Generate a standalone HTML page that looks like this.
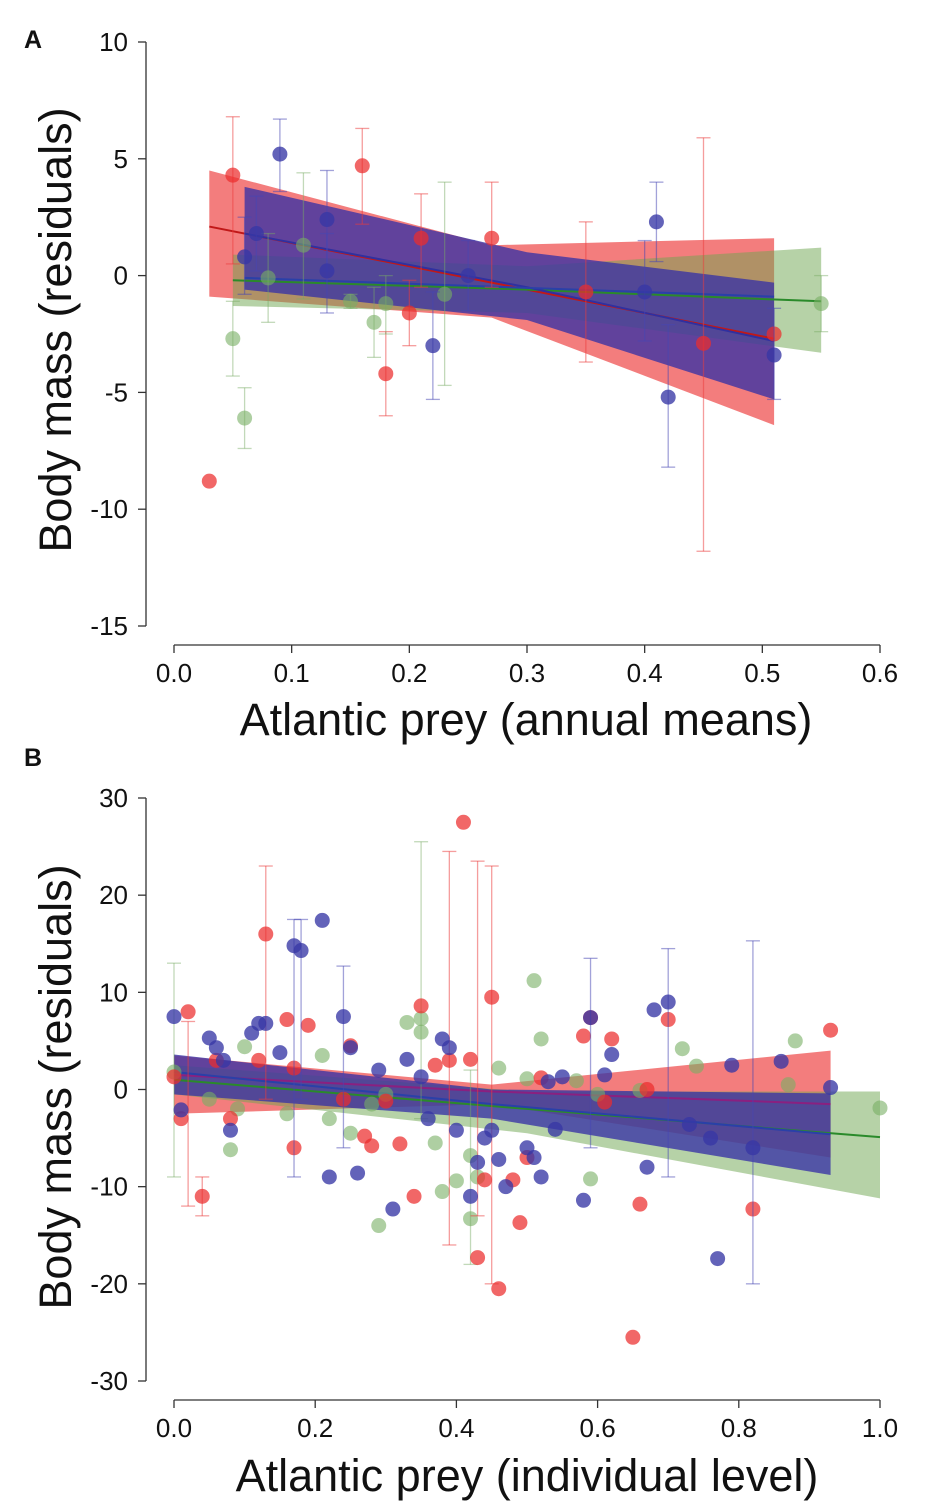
<!DOCTYPE html>
<html><head><meta charset="utf-8"><style>
body{margin:0;background:#fff;}
svg{display:block;font-family:"Liberation Sans",sans-serif;}
</style></head><body>
<svg id="c" width="945" height="1512"></svg>
<script>
// ---------- Panel A data ----------
const aRed=[[0.03,-8.8,null,null],[0.05,4.3,0.5,6.8],[0.16,4.7,2.2,6.3],[0.18,-4.2,-6.0,-2.4],[0.20,-1.6,-3.0,-0.2],[0.21,1.6,-0.5,3.5],[0.27,1.6,-0.5,4.0],[0.35,-0.7,-3.7,2.3],[0.45,-2.9,-11.8,5.9],[0.51,-2.5,null,null]];
const aGreen=[[0.05,-2.7,-4.3,-1.1],[0.06,-6.1,-7.4,-4.8],[0.08,-0.1,-2.0,1.8],[0.11,1.3,-1.0,4.4],[0.15,-1.1,-1.4,-0.8],[0.17,-2.0,-3.5,-0.5],[0.18,-1.2,-2.5,0.0],[0.23,-0.8,-4.7,4.0],[0.55,-1.2,-2.4,0.0]];
const aBlue=[[0.06,0.8,-0.8,2.5],[0.07,1.8,0.2,3.4],[0.09,5.2,3.6,6.7],[0.13,2.4,0.2,4.5],[0.13,0.2,-1.6,1.8],[0.22,-3.0,-5.3,-0.7],[0.25,0.0,-1.5,1.5],[0.40,-0.7,-2.8,1.5],[0.41,2.3,0.6,4.0],[0.42,-5.2,-8.2,-2.1],[0.51,-3.4,-5.3,-1.4]];
// bands: [x, lower, upper, fit]
const aRedBand=[[0.03,-0.9,4.5,2.1],[0.27,-1.8,1.3,-0.3],[0.51,-6.4,1.6,-2.7]];
const aGreenBand=[[0.05,-1.3,0.9,-0.2],[0.30,-1.6,0.4,-0.6],[0.55,-3.3,1.2,-1.1]];
const aBlueBand=[[0.06,-0.6,3.8,1.8],[0.30,-1.9,1.0,-0.5],[0.51,-5.3,-0.3,-2.8]];
const aBlueFlat=[[0.06,-0.1],[0.51,-0.9]];
const aXTicks=["0.0","0.1","0.2","0.3","0.4","0.5","0.6"];
const aYTicks=[10,5,0,-5,-10,-15];
// ---------- Panel B data ----------
const bRed=[[0.0,1.3],[0.02,8],[0.01,-3],[0.04,-11],[0.06,3],[0.08,-3],[0.12,3],[0.13,16],[0.16,7.2],[0.17,-6],[0.19,6.6],[0.17,2.2],[0.25,4.5],[0.24,-1.0],[0.27,-4.8],[0.28,-5.8],[0.30,-1.2],[0.32,-5.6],[0.34,-11],[0.35,8.6],[0.37,2.5],[0.39,3],[0.41,27.5],[0.42,3.1],[0.43,-17.3],[0.44,-9.3],[0.45,9.5],[0.46,-20.5],[0.48,-9.3],[0.49,-13.7],[0.50,-7],[0.52,1.2],[0.58,5.5],[0.59,7.4],[0.62,5.2],[0.66,-11.8],[0.65,-25.5],[0.70,7.2],[0.67,0],[0.82,-12.3],[0.93,6.1],[0.61,-1.3]];
const bBlue=[[0.0,7.5],[0.01,-2.1],[0.05,5.3],[0.06,4.3],[0.07,3],[0.08,-4.2],[0.11,5.8],[0.12,6.8],[0.13,6.8],[0.15,3.8],[0.17,14.8],[0.18,14.3],[0.21,17.4],[0.22,-9],[0.24,7.5],[0.25,4.3],[0.26,-8.6],[0.29,2],[0.31,-12.3],[0.33,3.1],[0.35,1.3],[0.36,-3],[0.38,5.2],[0.39,4.3],[0.40,-4.2],[0.42,-11],[0.43,-7.5],[0.44,-5],[0.45,-4.2],[0.46,-7.2],[0.47,-10],[0.50,-6],[0.51,-7],[0.52,-9],[0.53,0.8],[0.54,-4.1],[0.55,1.3],[0.58,-11.4],[0.59,7.4],[0.61,1.5],[0.62,3.6],[0.68,8.2],[0.70,9],[0.67,-8],[0.73,-3.6],[0.76,-5],[0.77,-17.4],[0.79,2.5],[0.82,-6],[0.86,2.9],[0.93,0.2]];
const bGreen=[[0.0,1.8],[0.05,-1],[0.08,-6.2],[0.10,4.4],[0.09,-2],[0.16,-2.5],[0.21,3.5],[0.22,-3],[0.25,-4.5],[0.28,-1.5],[0.29,-14],[0.30,-0.5],[0.33,6.9],[0.35,7.3],[0.35,5.9],[0.37,-5.5],[0.38,-10.5],[0.40,-9.4],[0.42,-13.3],[0.42,-6.8],[0.43,-9],[0.46,2.2],[0.50,1.1],[0.51,11.2],[0.52,5.2],[0.57,0.9],[0.59,-9.2],[0.60,-0.5],[0.66,-0.1],[0.72,4.2],[0.74,2.4],[0.87,0.5],[0.88,5],[1.0,-1.9]];
// error bars for selected points: [series, index, lo, hi]
const bErr=[["r",1,-12,7],["r",7,-1,23],["r",3,-13,-9],["r",24,-13,23.5],["r",26,-20,23],["r",21,-16,24.5],["b",10,-9,17.5],["b",11,-1,17.5],["b",14,-6,12.7],["b",42,-9,14.5],["b",38,-6,13.5],["b",48,-20,15.3],["g",13,-3,25.5],["g",0,-9,13],["g",19,-18,2]];
const bRedBand=[[0,-2.5,3.5,1.5],[0.45,-1.5,0.5,-0.2],[0.93,-7,4.0,-1.5]];
const bGreenBand=[[0,-0.5,2.5,1.0],[0.5,-4.5,-0.2,-2.0],[1.0,-11.2,-0.2,-4.9]];
const bBlueBand=[[0,-0.5,3.6,1.8],[0.45,-3.0,0.0,-1.5],[0.93,-8.8,-0.4,-4.6]];
const bXTicks=["0.0","0.2","0.4","0.6","0.8","1.0"];
const bYTicks=[30,20,10,0,-10,-20,-30];

const NS="http://www.w3.org/2000/svg";
const svg=document.getElementById('c');
function mk(tag,attrs,parent,txt){const e=document.createElementNS(NS,tag);for(const k in attrs)e.setAttribute(k,attrs[k]);if(txt!==undefined)e.textContent=txt;(parent||svg).appendChild(e);return e;}

function panel(cfg){
  const g=mk('g',{});
  
  
  const X=v=>cfg.x0+(v-cfg.xmin)/(cfg.xmax-cfg.xmin)*(cfg.x1-cfg.x0);
  const Y=v=>cfg.y0+(cfg.ymax-v)/(cfg.ymax-cfg.ymin)*(cfg.y1-cfg.y0);
  cfg.bands.forEach(b=>{
    const up=b.d.map(p=>X(p[0])+','+Y(p[2])).join(' ');
    const lo=b.d.slice().reverse().map(p=>X(p[0])+','+Y(p[1])).join(' ');
    const poly=mk('polygon',{points:up+' '+lo,fill:b.fill},g);
    
    
  });
  cfg.bands.forEach(b=>{
    const pl=mk('polyline',{points:b.d.map(p=>X(p[0])+','+Y(p[3])).join(' '),fill:'none',stroke:b.line,'stroke-width':2},g);
    
    
  });
  (cfg.extraLines||[]).forEach(l=>{
    const pl=mk('polyline',{points:l.d.map(p=>X(p[0])+','+Y(p[1])).join(' '),fill:'none',stroke:l.c,'stroke-width':2},g);
    
    
  });
  cfg.series.forEach(s=>{
    s.d.forEach((p,i)=>{
      let lo=p[2],hi=p[3];
      if(s.err&&s.err[i]){lo=s.err[i][0];hi=s.err[i][1];}
      if(lo!=null&&hi!=null){
        const eg=mk('g',{stroke:s.ec,'stroke-width':1.3,fill:'none'},g);
        
        
        const cx=X(p[0]);
        mk('line',{x1:cx,x2:cx,y1:Y(lo),y2:Y(hi)},eg);
        mk('line',{x1:cx-7,x2:cx+7,y1:Y(lo),y2:Y(lo)},eg);
        mk('line',{x1:cx-7,x2:cx+7,y1:Y(hi),y2:Y(hi)},eg);
      }
      const c=mk('circle',{cx:X(p[0]),cy:Y(p[1]),r:cfg.r,fill:s.fill},g);
      
      
    });
  });
  const ya=mk('g',{stroke:'#333','stroke-width':1.3},g);
  
  
  mk('line',{x1:cfg.ax,x2:cfg.ax,y1:Y(cfg.ymax),y2:Y(cfg.ymin)},ya);
  cfg.yt.forEach(t=>{
    mk('line',{x1:cfg.ax-8,x2:cfg.ax,y1:Y(t),y2:Y(t)},ya);
    const tx=mk('text',{x:cfg.ax-18,y:Y(t)+9,'text-anchor':'end','font-size':26,fill:'#111',stroke:'none'},g,String(t));
    
    
  });
  const xa=mk('g',{stroke:'#333','stroke-width':1.3},g);
  
  
  mk('line',{x1:X(cfg.xmin),x2:X(cfg.xmax),y1:cfg.ay,y2:cfg.ay},xa);
  cfg.xt.forEach(t=>{
    const v=parseFloat(t);
    mk('line',{x1:X(v),x2:X(v),y1:cfg.ay,y2:cfg.ay+8},xa);
    const tx=mk('text',{x:X(v),y:cfg.ay+37,'text-anchor':'middle','font-size':26,fill:'#111'},g,t);
    
    
  });
  const xt=mk('text',{x:cfg.xtx,y:cfg.xty,'text-anchor':'middle','font-size':45,fill:'#111'},g,cfg.xtitle);
  
  
  const yt=mk('text',{x:0,y:0,'text-anchor':'middle','font-size':45,fill:'#111',transform:`translate(71,${cfg.ytc}) rotate(-90)`},g,'Body mass (residuals)');
  
  
  const lb=mk('text',{x:24,y:cfg.lby,'font-size':25,'font-weight':'bold',fill:'#111'},g,cfg.label);
  
  
}
const RB='rgba(236,45,45,0.62)',GB='rgba(110,165,80,0.5)',BB='rgba(55,50,165,0.78)';
const RP='rgba(236,45,45,0.72)',GP='rgba(120,175,100,0.6)',BP='rgba(55,55,165,0.78)';
const RE='rgba(236,60,60,0.5)',GE='rgba(120,170,100,0.45)',BE='rgba(70,70,180,0.5)';
panel({name:'panel-a',label:'A',lby:48,x0:174,x1:880,xmin:0,xmax:0.6,y0:42,y1:626,ymin:-15,ymax:10,ax:146,ay:645,r:7.5,
  xt:aXTicks,yt:aYTicks,xtitle:'Atlantic prey (annual means)',xtx:526,xty:735,ytc:330,
  bands:[{name:'red',d:aRedBand,fill:RB,line:'#c01818'},{name:'green',d:aGreenBand,fill:GB,line:'#2a8a2a'},{name:'blue',d:aBlueBand,fill:BB,line:'#3030a0'}],
  extraLines:[{name:'blue-flat-line',d:aBlueFlat,c:'#2a40a8'}],
  series:[{name:'red',d:aRed,fill:RP,ec:RE},{name:'green',d:aGreen,fill:GP,ec:GE},{name:'blue',d:aBlue,fill:BP,ec:BE}]});
function errMap(k){const m={};bErr.filter(e=>e[0]===k&&e[2]!=null).forEach(e=>m[e[1]]=[e[2],e[3]]);return m;}
panel({name:'panel-b',label:'B',lby:766,x0:174,x1:880,xmin:0,xmax:1,y0:798,y1:1381,ymin:-30,ymax:30,ax:146,ay:1400,r:7.5,
  xt:bXTicks,yt:bYTicks,xtitle:'Atlantic prey (individual level)',xtx:527,xty:1491,ytc:1087,
  bands:[{name:'red',d:bRedBand,fill:RB,line:'#8a2080'},{name:'green',d:bGreenBand,fill:GB,line:'#2a8a2a'},{name:'blue',d:bBlueBand,fill:BB,line:'#2a40a8'}],
  series:[{name:'green',d:bGreen,fill:GP,ec:GE,err:errMap('g')},{name:'red',d:bRed,fill:RP,ec:RE,err:errMap('r')},{name:'blue',d:bBlue,fill:BP,ec:BE,err:errMap('b')}]});
</script>
</body></html>
